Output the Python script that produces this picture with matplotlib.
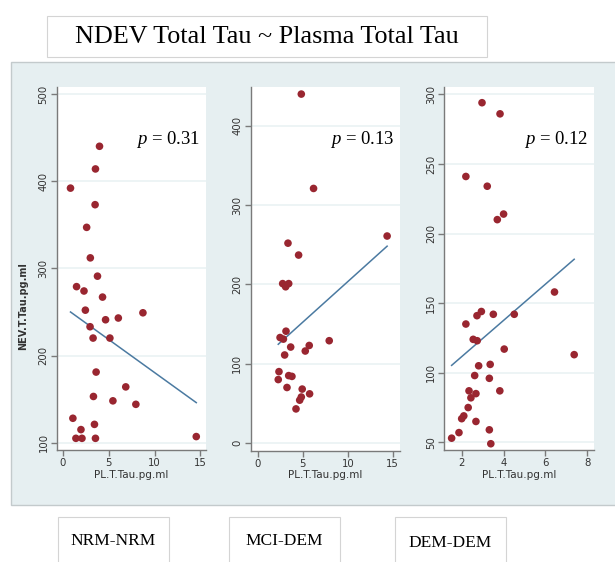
import numpy as np
import matplotlib
matplotlib.use('Agg')
import matplotlib.pyplot as plt
from matplotlib.patches import Rectangle

plt.rcParams['mathtext.fontset'] = 'custom'
plt.rcParams['mathtext.rm'] = 'Liberation Serif'
plt.rcParams['mathtext.it'] = 'Liberation Serif:italic'

# ---------------- data ----------------
groups = ["NRM-NRM", "MCI-DEM", "DEM-DEM"]
p_values = ["0.31", "0.13", "0.12"]

nrm_x = [4.0, 3.56, 0.84, 3.52, 2.6, 3.0, 3.78, 1.5, 2.31, 4.33, 2.46, 4.66, 6.05,
         8.73, 2.97, 3.3, 5.13, 3.63, 6.86, 3.34, 5.46, 7.96, 1.1, 3.45, 1.98,
         1.43, 2.09, 3.56, 14.54]
nrm_y = [440, 414, 392, 373, 347, 312, 291, 279, 274, 267, 252, 241, 243,
         249, 233, 220, 220, 181, 164, 153, 148, 144, 128, 121, 115,
         105, 105, 105, 107]

mci_x = [4.84, 6.2, 14.37, 3.36, 4.54, 2.77, 3.44, 3.1, 3.14, 2.48, 2.85, 7.94,
         3.66, 5.72, 5.28, 2.99, 2.36, 2.28, 3.44, 3.8, 3.25, 4.94, 5.76, 4.84,
         4.66, 4.25]
mci_y = [440, 321, 261, 252, 237, 201, 201, 197, 141, 133, 131, 129,
         121, 123, 116, 111, 90, 80, 85, 84, 70, 68, 62, 58,
         54, 43]

dem_x = [2.97, 3.83, 2.2, 3.22, 4.0, 3.7, 6.43, 2.94, 2.73, 3.51, 4.51, 2.2,
         2.55, 2.74, 4.03, 7.37, 2.81, 3.36, 2.62, 3.32, 2.35, 3.82, 2.68,
         2.44, 2.31, 2.1, 2.0, 2.68, 1.87, 3.32, 1.52, 3.39]
dem_y = [294, 286, 241, 234, 214, 210, 158, 144, 141, 142, 142, 135,
         124, 123, 117, 113, 105, 106, 98, 96, 87, 87, 85,
         82, 75, 69, 67, 65, 57, 59, 53, 49]

# linear fit
fit_intercept = [256.3, 101.2, 85.5]
fit_slope = [-7.59, 10.23, 13.03]

# ---------------- layout ----------------
W, H = 615, 562
fig = plt.figure(figsize=(W / 100, H / 100), dpi=100)
fig.patch.set_facecolor('white')

def fx(px):
    return px / W

def fy(py):
    return 1 - py / H

bg = '#e6eff1'
fig.patches.append(Rectangle((fx(11), fy(505)), fx(W + 5) - fx(11), fy(62) - fy(505),
                             transform=fig.transFigure, facecolor=bg,
                             edgecolor='#c3cacc', lw=1, zorder=-5))

# title box
fig.patches.append(Rectangle((fx(47), fy(57)), fx(487) - fx(47), fy(16) - fy(57),
                             transform=fig.transFigure, facecolor='white',
                             edgecolor='#d4d4d4', lw=0.8, zorder=-5))
fig.text(fx(267), fy(37), "NDEV Total Tau ~ Plasma Total Tau", ha='center', va='center',
         family='Liberation Serif', fontsize=18.8, color='black')

panels = [
    (nrm_x, nrm_y, (57, 87, 206, 450), (-0.63, 15.6), (91.6, 508),
     [0, 5, 10, 15], [100, 200, 300, 400, 500]),
    (mci_x, mci_y, (250.7, 86.7, 400, 450.7), (-0.78, 15.8), (-9.7, 449.3),
     [0, 5, 10, 15], [0, 100, 200, 300, 400]),
    (dem_x, dem_y, (444.3, 86.7, 594.3, 450), (1.17, 8.33), (44.5, 305.5),
     [2, 4, 6, 8], [50, 100, 150, 200, 250, 300]),
]

for i, (xs, ys, box, xl, yl, xt, yt) in enumerate(panels):
    l, t, r, b = box
    ax = fig.add_axes([fx(l), fy(b), fx(r) - fx(l), fy(t) - fy(b)])
    ax.set_zorder(2)
    ax.set_facecolor('white')
    ax.scatter(xs, ys, s=30, color='#992630', edgecolors='none', zorder=3)
    xx = np.array([min(xs), max(xs)])
    ax.plot(xx, fit_intercept[i] + fit_slope[i] * xx, color='#4b7aa1', lw=1.1, zorder=2)
    ax.set_xlim(xl)
    ax.set_ylim(yl)
    ax.set_xticks(xt)
    ax.set_yticks(yt)
    ax.set_yticklabels([str(v) for v in yt], rotation=90, va='center')
    ax.grid(axis='y', color='#eaf2f4', lw=1.2)
    ax.set_axisbelow(True)
    for s in ['top', 'right']:
        ax.spines[s].set_visible(False)
    for s in ['left', 'bottom']:
        ax.spines[s].set_color('#7a7a7a')
        ax.spines[s].set_linewidth(1)
    ax.tick_params(direction='out', length=4, width=1, color='#7a7a7a',
                   labelsize=7.3, labelcolor='#333333', pad=2)
    ax.set_xlabel("PL.T.Tau.pg.ml", fontsize=7.5, color='#333333', labelpad=1)
    ax.text(0.96, 0.855, "$p$ = " + p_values[i], transform=ax.transAxes,
            ha='right', va='center', family='Liberation Serif', fontsize=13.5)

fig.text(fx(23), fy(306), "NEV.T.Tau.pg.ml", rotation=90, ha='center', va='center',
         fontsize=7, fontweight='bold', color='#333333')

# group labels under the panels
label_boxes = [(58, 169, 113, 541), (229, 340, 284.5, 541), (395, 506, 450, 543)]
for name, (x0, x1, cx, cy) in zip(groups, label_boxes):
    fig.patches.append(Rectangle((fx(x0), fy(H + 5)), fx(x1) - fx(x0), fy(517) - fy(H + 5),
                                 transform=fig.transFigure, facecolor='white',
                                 edgecolor='#d4d4d4', lw=0.8, zorder=-5))
    fig.text(fx(cx), fy(cy), name, ha='center', va='center',
             family='Liberation Serif', fontsize=12.5)

fig.savefig('out.png', dpi=100)
